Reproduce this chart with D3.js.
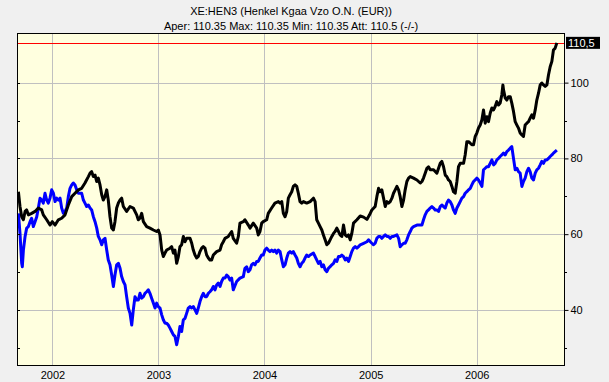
<!DOCTYPE html>
<html><head><meta charset="utf-8">
<script src="https://cdn.jsdelivr.net/npm/d3@7"></script>
<style>
html,body{margin:0;padding:0;background:#f0f0f0;}
svg{display:block;font-family:"Liberation Sans",Arial,sans-serif;}
</style></head>
<body><svg id="c" width="609" height="382"></svg>
<script>
const titleLines = ["XE:HEN3 (Henkel Kgaa Vzo O.N. (EUR))", "Aper: 110.35 Max: 110.35 Min: 110.35 Att: 110.5 (-/-)"];
const yearTicks = [2002, 2003, 2004, 2005, 2006];
const yTicksMajor = [40, 60, 80, 100];
const yTicksMinor = [30, 50, 70, 90];
const lastValue = 110.5;
const lastLabel = "110,5";
const xDomain = ["2001-09-01", "2006-11-01"];
const yDomain = [25.2, 113.1];

// Henkel share price (black), [decimal year, value]
const blackSeries = [[2001.679,71.2],[2001.694,67.3],[2001.710,64.6],[2001.726,63.8],[2001.742,66.0],[2001.757,66.4],[2001.773,65.1],[2001.804,65.5],[2001.836,66.0],[2001.867,66.9],[2001.899,66.4],[2001.914,65.1],[2001.946,63.8],[2001.977,62.4],[2001.999,63.3],[2002.025,62.4],[2002.056,63.8],[2002.087,64.2],[2002.119,65.1],[2002.150,67.7],[2002.182,69.9],[2002.213,70.8],[2002.245,71.7],[2002.276,72.1],[2002.307,73.5],[2002.339,75.2],[2002.355,76.1],[2002.370,76.5],[2002.386,75.2],[2002.402,75.6],[2002.418,73.9],[2002.433,74.8],[2002.449,73.0],[2002.465,70.4],[2002.480,69.0],[2002.496,69.9],[2002.512,71.7],[2002.527,69.0],[2002.543,64.6],[2002.559,61.6],[2002.575,61.1],[2002.590,63.3],[2002.606,66.9],[2002.622,68.2],[2002.638,69.0],[2002.653,69.5],[2002.669,67.3],[2002.700,66.0],[2002.732,67.3],[2002.763,66.9],[2002.795,65.1],[2002.810,63.8],[2002.826,64.2],[2002.842,65.5],[2002.858,63.3],[2002.889,62.0],[2002.920,61.6],[2002.952,61.1],[2002.983,60.7],[2002.999,61.1],[2003.015,59.8],[2003.031,55.8],[2003.046,54.1],[2003.062,55.0],[2003.078,55.8],[2003.109,56.3],[2003.125,56.7],[2003.141,55.0],[2003.156,55.8],[2003.172,52.3],[2003.188,54.1],[2003.203,56.7],[2003.219,57.2],[2003.235,59.4],[2003.251,58.0],[2003.266,58.9],[2003.298,58.9],[2003.314,57.6],[2003.329,55.8],[2003.345,54.5],[2003.361,53.7],[2003.376,54.1],[2003.392,55.4],[2003.408,56.3],[2003.423,56.7],[2003.439,56.3],[2003.455,54.5],[2003.471,53.7],[2003.486,53.2],[2003.502,53.2],[2003.518,54.5],[2003.549,55.4],[2003.581,55.8],[2003.596,57.2],[2003.612,58.0],[2003.628,58.9],[2003.659,59.4],[2003.691,60.7],[2003.706,58.9],[2003.738,57.6],[2003.754,59.4],[2003.769,62.9],[2003.801,63.3],[2003.816,63.8],[2003.848,62.4],[2003.864,61.6],[2003.895,62.9],[2003.927,61.6],[2003.942,59.8],[2003.958,60.7],[2003.974,62.9],[2003.989,63.3],[2004.021,63.8],[2004.036,65.5],[2004.068,66.9],[2004.099,68.2],[2004.131,68.6],[2004.147,68.2],[2004.163,68.6],[2004.178,65.5],[2004.194,64.6],[2004.210,66.0],[2004.225,69.5],[2004.241,70.4],[2004.257,71.2],[2004.272,72.6],[2004.288,73.0],[2004.304,72.6],[2004.319,70.8],[2004.335,68.6],[2004.351,68.2],[2004.367,68.6],[2004.398,68.2],[2004.430,68.6],[2004.461,69.5],[2004.477,68.6],[2004.492,63.8],[2004.508,62.9],[2004.524,62.0],[2004.540,61.1],[2004.555,59.8],[2004.571,58.5],[2004.587,57.2],[2004.602,57.6],[2004.618,58.5],[2004.634,59.4],[2004.650,60.2],[2004.665,60.7],[2004.681,61.6],[2004.697,60.7],[2004.712,59.8],[2004.728,59.4],[2004.744,62.4],[2004.760,59.8],[2004.775,59.4],[2004.791,59.8],[2004.807,58.5],[2004.822,60.2],[2004.838,62.9],[2004.870,63.8],[2004.901,64.8],[2004.933,64.5],[2004.964,63.9],[2004.989,65.1],[2005.011,66.4],[2005.042,67.3],[2005.058,69.9],[2005.074,72.1],[2005.090,71.2],[2005.105,71.7],[2005.121,69.5],[2005.137,67.3],[2005.153,68.6],[2005.168,68.2],[2005.184,68.6],[2005.200,69.5],[2005.215,70.8],[2005.231,71.7],[2005.247,72.6],[2005.263,71.7],[2005.278,69.9],[2005.294,67.3],[2005.310,69.0],[2005.325,71.7],[2005.341,73.9],[2005.357,74.8],[2005.373,75.2],[2005.404,74.8],[2005.436,74.3],[2005.467,73.5],[2005.483,73.9],[2005.498,74.8],[2005.514,76.1],[2005.530,77.4],[2005.545,77.8],[2005.561,77.0],[2005.593,77.0],[2005.624,76.1],[2005.640,77.4],[2005.656,78.7],[2005.671,79.2],[2005.687,77.8],[2005.703,75.6],[2005.718,75.2],[2005.734,74.3],[2005.750,73.9],[2005.766,72.6],[2005.781,71.2],[2005.797,70.8],[2005.813,73.9],[2005.828,77.8],[2005.844,78.7],[2005.876,78.7],[2005.891,80.9],[2005.907,84.4],[2005.923,84.4],[2005.939,84.0],[2005.954,83.6],[2005.970,83.6],[2005.986,85.8],[2006.001,86.7],[2006.017,88.0],[2006.033,88.8],[2006.049,90.2],[2006.064,92.8],[2006.080,89.3],[2006.096,91.0],[2006.111,89.7],[2006.127,91.9],[2006.143,93.3],[2006.159,92.8],[2006.174,93.7],[2006.190,95.0],[2006.206,94.1],[2006.221,94.6],[2006.237,96.8],[2006.247,99.4],[2006.253,98.1],[2006.269,95.9],[2006.284,95.4],[2006.300,96.3],[2006.316,96.3],[2006.331,94.6],[2006.347,92.4],[2006.363,89.7],[2006.379,88.8],[2006.394,88.0],[2006.410,86.7],[2006.426,86.2],[2006.441,85.8],[2006.457,88.8],[2006.473,89.3],[2006.489,89.7],[2006.504,90.6],[2006.520,91.5],[2006.536,90.6],[2006.552,92.8],[2006.567,95.4],[2006.583,97.2],[2006.599,99.4],[2006.614,99.9],[2006.630,99.4],[2006.646,99.0],[2006.662,99.4],[2006.677,102.0],[2006.693,104.2],[2006.709,105.6],[2006.724,108.6],[2006.740,109.1],[2006.756,110.5]];

// comparison index (blue), [decimal year, value]
const blueSeries = [[2001.679,65.5],[2001.694,60.2],[2001.710,52.3],[2001.716,51.4],[2001.726,55.8],[2001.742,59.4],[2001.757,61.6],[2001.773,62.0],[2001.789,63.3],[2001.804,64.2],[2001.820,62.0],[2001.836,63.3],[2001.852,64.6],[2001.867,66.9],[2001.883,69.5],[2001.899,69.0],[2001.914,68.2],[2001.930,70.8],[2001.946,69.0],[2001.961,68.2],[2001.977,69.5],[2001.993,71.7],[2002.009,70.8],[2002.025,68.6],[2002.040,69.5],[2002.056,69.0],[2002.072,69.5],[2002.087,66.9],[2002.103,65.5],[2002.119,66.0],[2002.135,66.9],[2002.150,69.9],[2002.166,72.1],[2002.182,73.0],[2002.197,73.5],[2002.213,73.0],[2002.229,71.7],[2002.245,70.8],[2002.276,70.8],[2002.292,69.0],[2002.307,68.2],[2002.323,67.3],[2002.339,67.7],[2002.355,66.9],[2002.370,66.4],[2002.386,64.6],[2002.402,63.3],[2002.418,61.6],[2002.433,59.4],[2002.449,58.5],[2002.465,57.2],[2002.480,58.5],[2002.496,58.9],[2002.512,55.8],[2002.527,53.2],[2002.543,51.9],[2002.559,49.2],[2002.575,46.2],[2002.590,49.2],[2002.606,51.9],[2002.622,52.3],[2002.638,51.0],[2002.653,48.8],[2002.669,47.5],[2002.685,46.6],[2002.700,43.5],[2002.716,40.5],[2002.732,39.1],[2002.748,36.0],[2002.763,40.0],[2002.779,43.5],[2002.795,42.6],[2002.810,42.6],[2002.826,44.4],[2002.842,43.1],[2002.858,43.5],[2002.873,44.4],[2002.889,44.8],[2002.905,45.3],[2002.920,44.4],[2002.936,43.1],[2002.952,41.8],[2002.968,40.5],[2002.983,41.8],[2002.999,40.9],[2003.015,40.5],[2003.031,38.7],[2003.046,37.4],[2003.062,36.5],[2003.078,36.5],[2003.093,36.0],[2003.109,35.2],[2003.125,34.3],[2003.141,33.4],[2003.156,33.0],[2003.172,30.8],[2003.188,33.0],[2003.203,35.6],[2003.219,34.3],[2003.235,37.4],[2003.251,37.8],[2003.266,39.1],[2003.282,40.5],[2003.298,40.9],[2003.314,40.5],[2003.329,40.9],[2003.345,40.0],[2003.361,39.1],[2003.376,40.5],[2003.392,42.2],[2003.408,43.5],[2003.423,44.4],[2003.439,43.5],[2003.455,43.5],[2003.471,44.4],[2003.486,44.8],[2003.502,45.3],[2003.518,46.2],[2003.534,45.3],[2003.549,46.6],[2003.565,47.1],[2003.581,46.2],[2003.596,47.5],[2003.612,48.4],[2003.628,48.4],[2003.644,49.2],[2003.659,48.8],[2003.675,47.9],[2003.691,48.4],[2003.706,45.3],[2003.738,47.5],[2003.769,48.4],[2003.801,48.8],[2003.816,51.0],[2003.832,51.4],[2003.848,50.1],[2003.864,50.6],[2003.879,51.9],[2003.895,52.3],[2003.911,51.9],[2003.927,52.8],[2003.942,52.8],[2003.958,53.7],[2003.974,54.5],[2003.989,54.5],[2004.005,55.8],[2004.021,56.3],[2004.036,55.8],[2004.052,55.4],[2004.068,55.8],[2004.084,55.4],[2004.099,55.8],[2004.115,55.0],[2004.131,55.8],[2004.147,55.4],[2004.163,53.2],[2004.178,51.4],[2004.194,51.9],[2004.210,53.7],[2004.225,55.0],[2004.241,55.4],[2004.257,55.0],[2004.272,55.4],[2004.288,54.5],[2004.304,53.7],[2004.319,52.3],[2004.335,51.4],[2004.351,52.3],[2004.367,52.8],[2004.382,53.7],[2004.398,54.5],[2004.414,54.1],[2004.430,54.5],[2004.461,55.0],[2004.477,54.1],[2004.492,53.2],[2004.508,52.3],[2004.524,52.8],[2004.540,51.4],[2004.555,51.9],[2004.571,50.6],[2004.587,50.1],[2004.602,51.0],[2004.618,51.4],[2004.634,51.9],[2004.650,52.3],[2004.665,53.2],[2004.681,52.8],[2004.697,54.1],[2004.712,54.1],[2004.728,54.5],[2004.744,54.1],[2004.760,53.2],[2004.775,53.7],[2004.791,52.8],[2004.807,54.1],[2004.822,55.4],[2004.838,56.3],[2004.854,56.7],[2004.870,56.3],[2004.885,56.7],[2004.901,57.2],[2004.933,57.6],[2004.964,58.0],[2004.980,58.5],[2004.996,58.0],[2005.011,57.6],[2005.027,57.2],[2005.042,57.6],[2005.058,58.9],[2005.074,59.4],[2005.090,59.4],[2005.105,58.9],[2005.121,59.4],[2005.137,59.8],[2005.153,59.4],[2005.168,59.4],[2005.184,58.9],[2005.200,59.4],[2005.215,59.4],[2005.231,59.6],[2005.247,59.8],[2005.263,58.9],[2005.278,56.7],[2005.294,57.2],[2005.310,57.6],[2005.325,57.6],[2005.341,58.5],[2005.357,59.8],[2005.373,60.7],[2005.388,61.6],[2005.404,62.0],[2005.420,62.2],[2005.436,62.4],[2005.467,62.4],[2005.483,62.4],[2005.498,63.8],[2005.514,65.1],[2005.530,66.0],[2005.545,66.4],[2005.561,66.9],[2005.577,67.3],[2005.593,66.9],[2005.608,66.4],[2005.624,66.4],[2005.640,66.0],[2005.656,67.3],[2005.671,67.7],[2005.687,67.3],[2005.703,66.9],[2005.718,68.2],[2005.734,69.0],[2005.750,68.6],[2005.766,67.7],[2005.781,66.4],[2005.797,65.5],[2005.813,66.9],[2005.828,67.7],[2005.844,68.6],[2005.860,69.5],[2005.876,69.9],[2005.891,70.8],[2005.907,71.2],[2005.923,71.7],[2005.939,72.1],[2005.954,73.0],[2005.970,73.9],[2005.986,74.3],[2006.001,74.8],[2006.017,74.3],[2006.033,73.5],[2006.049,72.6],[2006.064,77.0],[2006.080,77.4],[2006.096,77.8],[2006.111,77.8],[2006.127,78.7],[2006.143,79.6],[2006.159,78.3],[2006.174,78.7],[2006.190,79.6],[2006.206,80.0],[2006.221,80.5],[2006.237,80.9],[2006.253,81.4],[2006.269,80.9],[2006.284,81.8],[2006.300,82.2],[2006.316,82.7],[2006.331,83.1],[2006.347,80.0],[2006.363,77.0],[2006.379,77.4],[2006.394,76.5],[2006.410,76.1],[2006.426,72.6],[2006.441,73.9],[2006.457,74.8],[2006.473,76.5],[2006.489,77.4],[2006.504,76.5],[2006.520,74.8],[2006.536,74.3],[2006.552,76.1],[2006.567,77.0],[2006.583,77.4],[2006.599,78.3],[2006.614,79.2],[2006.630,78.7],[2006.646,79.6],[2006.662,79.6],[2006.677,80.0],[2006.693,80.5],[2006.709,80.9],[2006.724,81.4],[2006.740,81.8],[2006.756,82.2]];

function yearToDate(yr){
  const Y = Math.floor(yr);
  const start = Date.UTC(Y,0,1), end = Date.UTC(Y+1,0,1);
  return new Date(start + (yr - Y) * (end - start));
}

const plot = {left: 17, right: 565, top: 33, bottom: 366};
const svg = d3.select("#c");

const x = d3.scaleUtc().domain(xDomain.map(d => new Date(d + "T00:00:00Z"))).range([plot.left, plot.right]);
const y = d3.scaleLinear().domain(yDomain).range([plot.bottom, plot.top]);

// background
svg.append("rect").attr("width", 609).attr("height", 382).attr("fill", "#f0f0f0");
svg.append("rect").attr("x", plot.left).attr("y", plot.top)
  .attr("width", plot.right - plot.left).attr("height", plot.bottom - plot.top)
  .attr("fill", "#ffffdf");

// title
svg.selectAll("text.title").data(titleLines).join("text").attr("class","title")
  .attr("x", (plot.left + plot.right) / 2).attr("y", (d,i) => 15 + i * 15)
  .attr("text-anchor", "middle").attr("font-size", 11).attr("fill", "#000").text(d => d);

// grid
const grid = svg.append("g");
grid.selectAll("line.v").data(yearTicks).join("line").attr("class","v")
  .attr("x1", d => Math.round(x(yearToDate(d))) + 0.5).attr("x2", d => Math.round(x(yearToDate(d))) + 0.5)
  .attr("y1", plot.top).attr("y2", plot.bottom).attr("stroke", "#c0c0c0");
grid.selectAll("line.h").data(yTicksMajor).join("line").attr("class","h")
  .attr("y1", d => Math.round(y(d)) + 0.5).attr("y2", d => Math.round(y(d)) + 0.5)
  .attr("x1", plot.left).attr("x2", plot.right).attr("stroke", "#c0c0c0");

// last value reference line
svg.append("line").attr("x1", plot.left).attr("x2", plot.right)
  .attr("y1", Math.round(y(lastValue)) + 0.5).attr("y2", Math.round(y(lastValue)) + 0.5)
  .attr("stroke", "#ff0000");

// series
const line = d3.line().x(d => x(yearToDate(d[0]))).y(d => y(d[1]));
svg.append("path").datum(blueSeries).attr("d", line).attr("fill","none")
  .attr("stroke", "#0000ff").attr("stroke-width", 3).attr("stroke-linejoin","round");
svg.append("path").datum(blackSeries).attr("d", line).attr("fill","none")
  .attr("stroke", "#000000").attr("stroke-width", 3).attr("stroke-linejoin","round");

// frame
svg.append("rect").attr("x", plot.left + 0.5).attr("y", plot.top + 0.5)
  .attr("width", plot.right - plot.left - 1).attr("height", plot.bottom - plot.top - 1)
  .attr("fill", "none").attr("stroke", "#000");

// right axis
const ra = svg.append("g").attr("transform", `translate(${plot.right - 0.5},0)`)
  .call(d3.axisRight(y).tickValues(yTicksMajor).tickSize(4).tickPadding(2).tickFormat(d3.format("d")));
ra.select(".domain").remove();
ra.selectAll("text").attr("font-size", 11).attr("font-family", '"Liberation Sans",Arial,sans-serif').attr("fill","#000");
ra.selectAll("line").attr("stroke","#000");
svg.append("g").selectAll("line").data(yTicksMinor).join("line")
  .attr("x1", plot.right).attr("x2", plot.right + 2)
  .attr("y1", d => Math.round(y(d)) + 0.5).attr("y2", d => Math.round(y(d)) + 0.5).attr("stroke","#000");

// left inner ticks
svg.append("g").selectAll("line").data(yTicksMajor.concat(yTicksMinor)).join("line")
  .attr("x1", plot.left).attr("x2", plot.left + 3)
  .attr("y1", d => Math.round(y(d)) + 0.5).attr("y2", d => Math.round(y(d)) + 0.5).attr("stroke","#000");

// last value label
const ly = y(lastValue);
svg.append("rect").attr("x", plot.right + 1).attr("y", ly - 6).attr("width", 34).attr("height", 12).attr("fill","#000");
svg.append("text").attr("x", plot.right + 3).attr("y", ly + 4).attr("font-size", 11).attr("fill","#fff").text(lastLabel);

// bottom axis
const ba = svg.append("g").attr("transform", `translate(0,${plot.bottom})`)
  .call(d3.axisBottom(x).tickValues(yearTicks.map(yearToDate)).tickSize(0).tickPadding(5).tickFormat(d3.utcFormat("%Y")));
ba.select(".domain").remove();
ba.selectAll("text").attr("font-size", 11).attr("font-family", '"Liberation Sans",Arial,sans-serif').attr("fill","#000");
</script></body></html>
